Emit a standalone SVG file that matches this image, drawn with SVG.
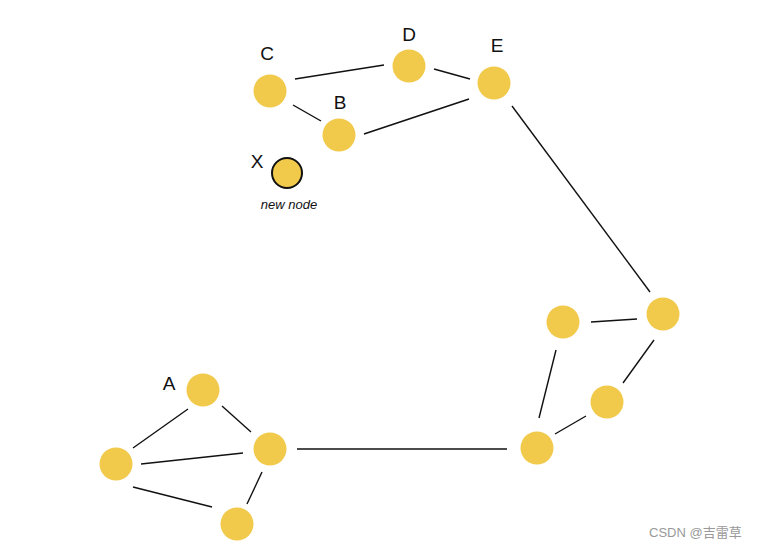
<svg xmlns="http://www.w3.org/2000/svg" width="764" height="548" viewBox="0 0 764 548">
<style>
.n{fill:#F1C94B;}
.x{fill:#F1C94B;stroke:#111;stroke-width:2;}
.e line{stroke:#111;stroke-width:1.4;}
.l{font-family:"Liberation Sans",Arial,sans-serif;font-size:19px;fill:#111;text-anchor:middle;}
.s{font-family:"Liberation Sans",Arial,sans-serif;font-size:13px;fill:#111;text-anchor:middle;font-style:italic;}
.w{font-family:"Liberation Sans","Noto Sans CJK SC",sans-serif;font-size:13px;fill:#999;}
</style>
<rect width="764" height="548" fill="#fff"/>
<g id="connectors" class="e">
<line x1="295" y1="79" x2="384" y2="65"/>
<line x1="434" y1="69" x2="470" y2="79"/>
<line x1="293" y1="105" x2="321" y2="121"/>
<line x1="364" y1="134" x2="469" y2="99"/>
<line x1="512" y1="106" x2="650" y2="292"/>
<line x1="591" y1="322" x2="637" y2="319"/>
<line x1="654" y1="340" x2="623" y2="383"/>
<line x1="556" y1="350" x2="539" y2="418"/>
<line x1="586" y1="416" x2="555" y2="434"/>
<line x1="297" y1="449" x2="507" y2="449"/>
<line x1="188" y1="409" x2="133" y2="448"/>
<line x1="222" y1="406" x2="251" y2="432"/>
<line x1="141" y1="464" x2="243" y2="453"/>
<line x1="133" y1="487" x2="212" y2="507"/>
<line x1="262" y1="472" x2="247" y2="504"/>
</g>
<g id="C"><circle class="n" cx="270" cy="91" r="16.5"/><text class="l" x="267" y="60">C</text></g>
<g id="D"><circle class="n" cx="409" cy="66" r="16.5"/><text class="l" x="409" y="41">D</text></g>
<g id="E"><circle class="n" cx="494" cy="83" r="16.5"/><text class="l" x="497" y="52">E</text></g>
<g id="B"><circle class="n" cx="339" cy="135" r="16.5"/><text class="l" x="340" y="109">B</text></g>
<g id="X"><circle class="x" cx="287" cy="173" r="15"/><text class="l" x="257" y="168">X</text><text class="s" x="289" y="209">new node</text></g>
<g id="A"><circle class="n" cx="203" cy="390" r="16.5"/><text class="l" x="169" y="390">A</text></g>
<g id="n2"><circle class="n" cx="270" cy="449" r="16.5"/></g>
<g id="n3"><circle class="n" cx="116" cy="464" r="16.5"/></g>
<g id="n4"><circle class="n" cx="237" cy="524" r="16.5"/></g>
<g id="n5"><circle class="n" cx="563" cy="322" r="16.5"/></g>
<g id="n6"><circle class="n" cx="663" cy="314" r="16.5"/></g>
<g id="n7"><circle class="n" cx="607" cy="402" r="16.5"/></g>
<g id="n8"><circle class="n" cx="537" cy="448" r="16.5"/></g>
<text class="w" x="649" y="537">CSDN @吉雷草</text>
</svg>
